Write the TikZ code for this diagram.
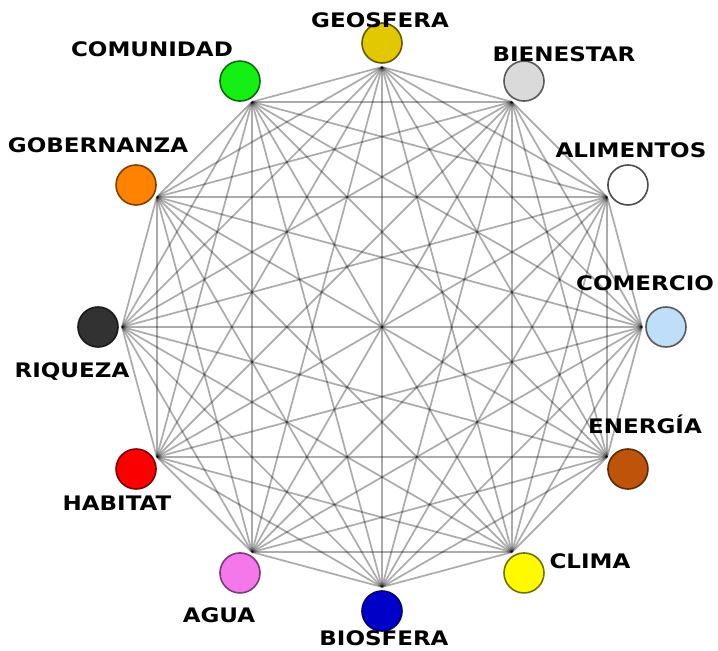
\documentclass[tikz,border=0pt]{standalone}
\usepackage{fontspec}
\usepackage{color}
\usepackage{tikz}
\newfontfamily\labelfont[FakeStretch=1.15]{DejaVu Sans Bold}
\definecolor{cgeo}{RGB}{226,200,0}
\definecolor{cbien}{RGB}{218,218,218}
\definecolor{calim}{RGB}{255,255,255}
\definecolor{ccom}{RGB}{190,222,250}
\definecolor{cener}{RGB}{190,84,10}
\definecolor{cclima}{RGB}{255,250,0}
\definecolor{cbio}{RGB}{0,0,200}
\definecolor{cagua}{RGB}{245,120,235}
\definecolor{chab}{RGB}{250,0,0}
\definecolor{criq}{RGB}{50,50,50}
\definecolor{cgob}{RGB}{255,130,0}
\definecolor{ccomu}{RGB}{20,240,20}

\begin{document}
\begin{tikzpicture}[x=1pt,y=1pt,
		edge/.style={line width=1.7pt,black,opacity=.33},
		ball/.style={circle,minimum size=40pt,inner sep=0pt,line width=1.6pt},
		lab/.style={anchor=base,inner sep=0pt,font=\labelfont\fontsize{20}{20}\selectfont}]
						\useasboundingbox (-382,-324) rectangle (336,327);
						%\draw[gray] (-382,-324) rectangle (336,327);
						% points where the lines meet
						\foreach \i in {1,...,12}
							\coordinate (v\i) at ({120-30*\i}:260);
						\foreach \i in {1,...,11}{
							\pgfmathtruncatemacro\k{\i+1}
							\foreach \j in {\k,...,12}
								\draw[edge] (v\i) -- (v\j);
						}
						% the balls
						\node[ball,fill=cgeo,draw=cgeo!45!black]   (geo)   at (90:284)  {};
						\node[ball,fill=cbien,draw=black!65]       (bien)  at (60:284)  {};
						\node[ball,fill=calim,draw=black!70]       (alim)  at (30:284)  {};
						\node[ball,fill=ccom,draw=black!65]        (comer) at (0:284)   {};
						\node[ball,fill=cener,draw=cener!50!black] (ener)  at (-30:284) {};
						\node[ball,fill=cclima,draw=cclima!45!black] (clima) at (-60:284) {};
						\node[ball,fill=cbio,draw=cbio!55!black]   (bio)   at (-90:284) {};
						\node[ball,fill=cagua,draw=cagua!50!black] (agua)  at (-120:284) {};
						\node[ball,fill=chab,draw=chab!50!black]   (hab)   at (-150:284) {};
						\node[ball,fill=criq,draw=black!90]        (riq)   at (180:284) {};
						\node[ball,fill=cgob,draw=cgob!50!black]   (gob)   at (150:284) {};
						\node[ball,fill=ccomu,draw=ccomu!45!black] (comu)  at (120:284) {};
						% the names
						\node[lab] (tgeo)   at (-2,299)    {GEOSFERA};
						\node[lab] (tbien)  at (182,265)   {BIENESTAR};
						\node[lab] (talim)  at (249,169)   {ALIMENTOS};
						\node[lab] (tcomer) at (263,37)    {COMERCIO};
						\node[lab] (tener)  at (263,-106)  {ENERGÍA};
						\node[lab] (tclima) at (208,-241)  {CLIMA};
						\node[lab] (tbio)   at (2,-318)    {BIOSFERA};
						\node[lab] (tagua)  at (-163,-295) {AGUA};
						\node[lab] (thab)   at (-265,-183) {HABITAT};
						\node[lab] (triq)   at (-310,-50)  {RIQUEZA};
						\node[lab] (tgob)   at (-284,174)  {GOBERNANZA};
						\node[lab] (tcomu)  at (-230,270)  {COMUNIDAD};
\end{tikzpicture}
\end{document}
